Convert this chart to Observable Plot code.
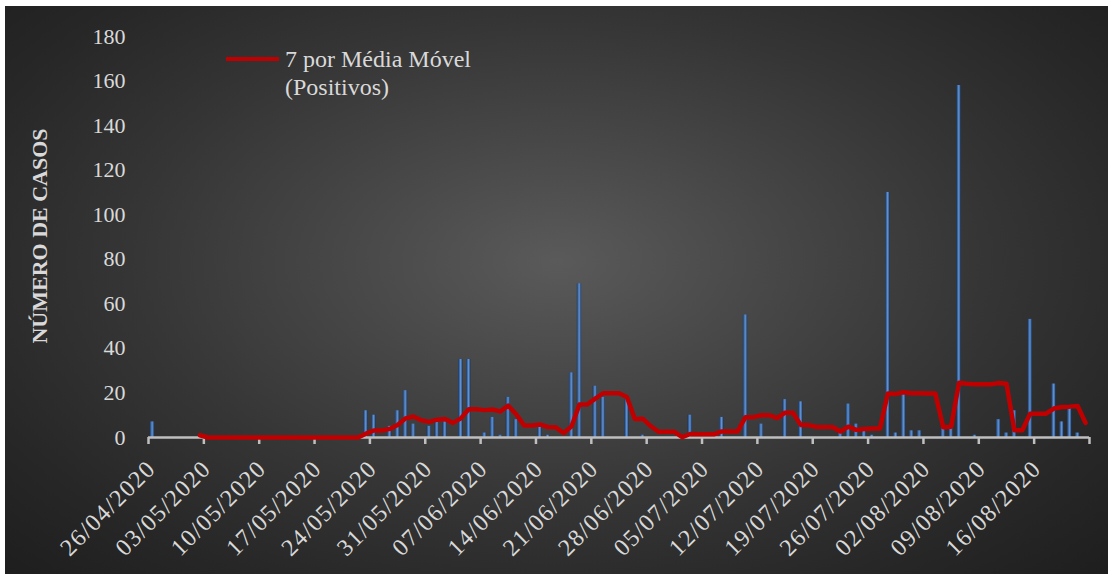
<!DOCTYPE html>
<html>
<head>
<meta charset="utf-8">
<script src="https://cdn.jsdelivr.net/npm/d3@7"></script>
<script src="https://cdn.jsdelivr.net/npm/@observablehq/plot@0.6"></script>
<style>
  html, body { margin: 0; padding: 0; background: #ffffff; width: 1113px; height: 579px; overflow: hidden; }
  #bg { position: absolute; left: 5px; top: 6px; width: 1103px; height: 568px;
        background: radial-gradient(ellipse farthest-corner at 50% 45%, #5a5a5a 0%, #494949 25%, #353535 55%, #272727 80%, #1e1e1e 100%); }
  #chart { position: absolute; left: 0; top: 0; }
  #ytitle { position: absolute; left: 40px; top: 236px; transform: translate(-50%, -50%) rotate(-90deg);
            font-family: "Liberation Serif", serif; font-weight: bold; font-size: 22px; color: #d9d9d9; white-space: nowrap; }
  #legend-line { position: absolute; left: 226px; top: 57px; width: 53px; height: 4px; background: #c00000; }
  #legend-text { position: absolute; left: 285px; top: 45px; font-family: "Liberation Serif", serif; font-size: 24px;
                 line-height: 28px; color: #d9d9d9; white-space: nowrap; }
</style>
</head>
<body>
<div id="bg"></div>
<div id="chart"></div>
<div id="ytitle">NÚMERO DE CASOS</div>
<div id="legend-line"></div>
<div id="legend-text">7 por Média Móvel<br>(Positivos)</div>
<script>
// ---- data ----
const startDate = "2020-04-26";
// daily positive cases from 26/04/2020 to 22/08/2020
const cases = [
  7, 0, 0, 0, 0, 0, 0,          // 26/04 - 02/05
  0, 0, 0, 0, 0, 0, 0,          // 03/05 - 09/05
  0, 0, 0, 0, 0, 0, 0,          // 10/05 - 16/05
  0, 0, 0, 0, 0, 0, 12,         // 17/05 - 23/05
  10, 0, 5, 12, 21, 6, 0,       // 24/05 - 30/05
  5, 7, 7, 0, 35, 35, 0,        // 31/05 - 06/06
  2, 9, 1, 18, 8, 0, 0,         // 07/06 - 13/06
  5, 1, 0, 0, 29, 69, 0,        // 14/06 - 20/06
  23, 18, 0, 0, 17, 0, 1,       // 21/06 - 27/06
  0, 0, 0, 0, 0, 10, 0,         // 28/06 - 04/07
  0, 0, 9, 0, 0, 55, 0,         // 05/07 - 11/07
  6, 0, 0, 17, 0, 16, 0,        // 12/07 - 18/07
  0, 0, 0, 3, 15, 6, 3,         // 19/07 - 25/07
  1, 0, 110, 2, 20, 3, 3,       // 26/07 - 01/08
  0, 0, 4, 4, 158, 0, 1,        // 02/08 - 08/08
  0, 0, 8, 2, 12, 0, 53,        // 09/08 - 15/08
  0, 0, 24, 7, 13, 2, 0         // 16/08 - 22/08
];
const tickLabels = ["26/04/2020","03/05/2020","10/05/2020","17/05/2020","24/05/2020","31/05/2020",
  "07/06/2020","14/06/2020","21/06/2020","28/06/2020","05/07/2020","12/07/2020","19/07/2020",
  "26/07/2020","02/08/2020","09/08/2020","16/08/2020"];
const yTicks = [0, 20, 40, 60, 80, 100, 120, 140, 160, 180];
const yTitle = "NÚMERO DE CASOS";
const legendLabel = "7 por Média Móvel (Positivos)";

// ---- build ----
const parseLabel = d3.utcParse("%d/%m/%Y");
const day0 = d3.utcParse("%Y-%m-%d")(startDate);
const data = cases.map((v, i) => ({date: d3.utcDay.offset(day0, i), cases: v}));
const labelDates = tickLabels.map(parseLabel);
const endDate = d3.utcDay.offset(labelDates[labelDates.length - 1], 7);
const weekTicks = labelDates.concat([endDate]);
const midDay = d => new Date(+d + 12 * 3600 * 1000);
const font = "Liberation Serif, serif";

const chart = Plot.plot({
  width: 1113,
  height: 579,
  marginLeft: 148,
  marginRight: 24,
  marginTop: 36,
  marginBottom: 142,
  style: {background: "transparent", color: "#d9d9d9", fontFamily: font, overflow: "visible"},
  x: {type: "utc", domain: [day0, endDate], axis: null},
  y: {domain: [0, 180], axis: null},
  marks: [
    Plot.axisY({ticks: yTicks, tickSize: 0, tickPadding: 23, fontSize: 22, fill: "#d9d9d9", label: null, fontFamily: font}),
    Plot.rectY(data, {x: "date", interval: "day", y: "cases", fill: "url(#barGrad)", insetLeft: 1.8, insetRight: 1.8}),
    Plot.ruleY([0], {stroke: "#bfbfbf", strokeWidth: 2.5}),
    Plot.axisX({ticks: weekTicks, tickSize: 7, tickFormat: () => "", stroke: "#bfbfbf", strokeWidth: 2.5, label: null}),
    Plot.text(tickLabels, {x: d => midDay(parseLabel(d)), frameAnchor: "bottom", text: d => d, rotate: -45,
      textAnchor: "end", lineAnchor: "middle", dx: -1, dy: 27, fill: "#d9d9d9", fontSize: 24, fontFamily: font}),
    Plot.lineY(data, Plot.windowY({k: 7, anchor: "end", strict: true},
      {x: d => midDay(d.date), y: "cases", stroke: "#c00000", strokeWidth: 4.5, strokeLinejoin: "round", strokeLinecap: "round"}))
  ]
});

const svg = d3.select(chart.tagName.toLowerCase() === "svg" ? chart : chart.querySelector("svg"));
svg.insert("defs", ":first-child").html(`
  <linearGradient id="barGrad" x1="0" x2="1" y1="0" y2="0">
    <stop offset="0%" stop-color="#1c365a"/>
    <stop offset="30%" stop-color="#3c6aa6"/>
    <stop offset="55%" stop-color="#6592cf"/>
    <stop offset="80%" stop-color="#3c6aa6"/>
    <stop offset="100%" stop-color="#1c365a"/>
  </linearGradient>`);
svg.selectAll("g[aria-label='text'] text").style("letter-spacing", "1.4px");
document.getElementById("chart").appendChild(chart);
</script>
</body>
</html>
